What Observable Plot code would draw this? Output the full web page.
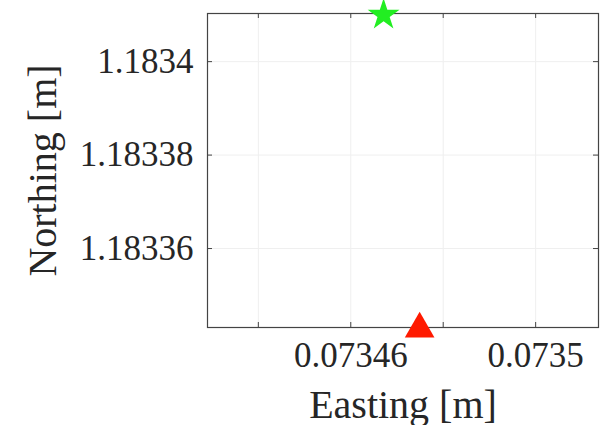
<!DOCTYPE html>
<html><head><meta charset="utf-8">
<script src="https://cdn.jsdelivr.net/npm/d3@7"></script>
<script src="https://cdn.jsdelivr.net/npm/@observablehq/plot@0.6"></script>
<style>body{margin:0;background:#fff}</style>
</head><body><div id="chart"></div>
<script>
// Axis ranges and ticks
const xDomain = [0.073429, 0.0735136];
const yDomain = [1.1833431, 1.1834103];
const xTicks = [0.07344, 0.07346, 0.07348, 0.0735];
const xTickLabels = ["", "0.07346", "", "0.0735"];
const yTicks = [1.18336, 1.18338, 1.1834];
const yTickLabels = ["1.18336", "1.18338", "1.1834"];
// Markers
const markerNames = ["start", "end"];
const markerEasting = [0.0734671, 0.0734749];
const markerNorthing = [1.18341, 1.1833428];
const markerSymbols = ["star", "triangle"];
const markerColors = ["#22ee22", "#ff1a00"];
const markerSizes = [10, 11];

const W = 603, H = 425;
const M = {top: 13, right: 5, bottom: 98, left: 207};
const frameH = H - M.top - M.bottom;
const frameW = W - M.left - M.right;
const tl = 5;

const markers = markerNames.map((n, i) => ({
  name: n, x: markerEasting[i], y: markerNorthing[i],
  symbol: markerSymbols[i], color: markerColors[i], r: markerSizes[i]
}));

const ink = "#262626";
const chart = Plot.plot({
  width: W, height: H,
  marginTop: M.top, marginRight: M.right, marginBottom: M.bottom, marginLeft: M.left,
  style: {fontFamily: "'Liberation Serif', serif", color: ink, background: "#fff"},
  x: {domain: xDomain, label: null},
  y: {domain: yDomain, label: null},
  marks: [
    Plot.gridX(xTicks, {stroke: "#efefef", strokeOpacity: 1}),
    Plot.gridY(yTicks, {stroke: "#efefef", strokeOpacity: 1}),
    Plot.frame({stroke: "#444", strokeWidth: 1.2}),
    Plot.tickX(xTicks, {x: d => d, insetTop: frameH - tl, stroke: "#444"}),
    Plot.tickX(xTicks, {x: d => d, insetBottom: frameH - tl, stroke: "#444"}),
    Plot.tickY(yTicks, {y: d => d, insetRight: frameW - tl, stroke: "#444"}),
    Plot.tickY(yTicks, {y: d => d, insetLeft: frameW - tl, stroke: "#444"}),
    Plot.axisX(xTicks, {
      anchor: "bottom", tickSize: 0, tickPadding: 15, fontSize: 35,
      tickFormat: (d, i) => xTickLabels[i]
    }),
    Plot.axisX({
      anchor: "bottom", ticks: [], tickSize: 0, fontSize: 40,
      label: "Easting [m]", labelAnchor: "center", labelArrow: "none", labelOffset: 90
    }),
    Plot.axisY(yTicks, {
      anchor: "left", tickSize: 0, tickPadding: 14, fontSize: 35,
      tickFormat: (d, i) => yTickLabels[i]
    }),
    Plot.axisY({
      anchor: "left", ticks: [], tickSize: 0, fontSize: 40,
      label: "Northing [m]", labelAnchor: "center", labelArrow: "none", labelOffset: 180
    }),
    Plot.dot(markers, {x: "x", y: "y", symbol: "symbol", fill: "color", r: "r", stroke: "none", clip: false})
  ],
  symbol: {type: "identity"},
  r: {type: "identity"}
});
document.getElementById("chart").appendChild(chart);
</script>
</body></html>
